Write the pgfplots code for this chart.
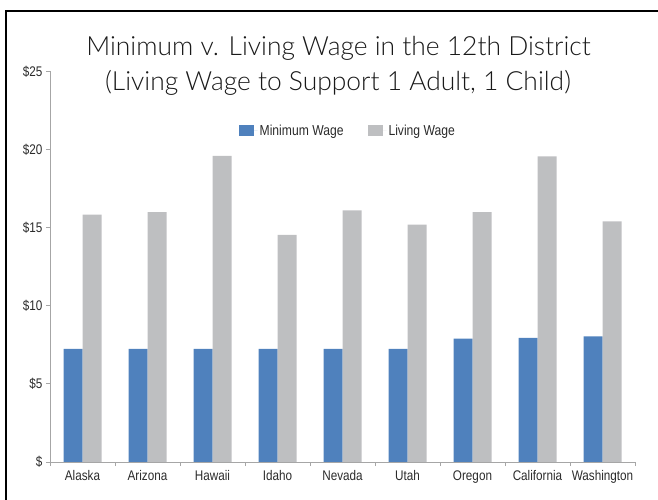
\documentclass[border=0pt]{standalone}
\usepackage{fontspec}
\setmainfont{Liberation Sans}
\newfontfamily\titlefont{Lato Light}
\newfontfamily\labelfont[FakeStretch=0.84]{Liberation Sans}
\usepackage{pgfplots}
\pgfplotsset{compat=1.18}
\definecolor{minblue}{HTML}{4F81BD}
\definecolor{livgray}{HTML}{BEBFC1}
\definecolor{axgray}{HTML}{A6A6A6}
\definecolor{txt}{HTML}{2B2B2B}
\begin{document}
\begin{tikzpicture}
\path[use as bounding box] (0bp,0bp) rectangle (658bp,500bp);
\draw[line width=2bp] (6bp,0bp) -- (6bp,489bp) -- (658bp,489bp);
\node[font=\titlefont\fontsize{26.5}{30}\selectfont, text=black!90] at (338.5bp,452bp) {Minimum v. Living Wage in the 12th District};
\node[font=\titlefont\fontsize{26.5}{30}\selectfont, text=black!90] at (338bp,417bp) {(Living Wage to Support 1 Adult, 1 Child)};
\begin{axis}[
  at={(50bp,38bp)}, anchor=south west,
  scale only axis, width=585bp, height=390.5bp,
  xmin=-0.5, xmax=8.5, ymin=0, ymax=25,
  axis x line=bottom, axis y line=left,
  axis line style={draw=axgray, line width=0.8bp, -},
  ybar=0pt, bar width=19bp,
  xtick={0,...,8},
  xticklabels={Alaska,Arizona,Hawaii,Idaho,Nevada,Utah,Oregon,California,Washington},
  minor xtick={-0.5,0.5,...,8.5},
  major x tick style={draw=none},
  minor x tick style={draw=axgray, line width=0.8bp},
  minor tick length=4bp,
  ytick={0,5,10,15,20,25},
  yticklabels={\$,\$5,\$10,\$15,\$20,\$25},
  y tick style={draw=axgray, line width=0.8bp},
  major tick length=4bp,
  tick align=outside,
  tick label style={font=\labelfont\fontsize{14}{16}\selectfont, text=txt},
  xticklabel style={yshift=-1bp},
  legend style={at={(0.509,0.848)}, anchor=center, draw=none, fill=none,
    legend columns=2, font=\labelfont\fontsize{14.5}{16}\selectfont, text=txt,
    /tikz/every even column/.append style={column sep=22bp}},
  legend image code/.code={\fill[#1,draw=none] (0bp,-5.5bp) rectangle (15bp,5.5bp); \path (15bp,0bp) -- (19bp,0bp);},
]
\addplot[fill=minblue, draw=none] coordinates {(0,7.25) (1,7.25) (2,7.25) (3,7.25) (4,7.25) (5,7.25) (6,7.9) (7,7.95) (8,8.05)};
\addplot[fill=livgray, draw=none] coordinates {(0,15.84) (1,16.0) (2,19.6) (3,14.54) (4,16.11) (5,15.2) (6,15.99) (7,19.57) (8,15.41)};
\legend{Minimum Wage, Living Wage}
\end{axis}
\end{tikzpicture}
\end{document}
